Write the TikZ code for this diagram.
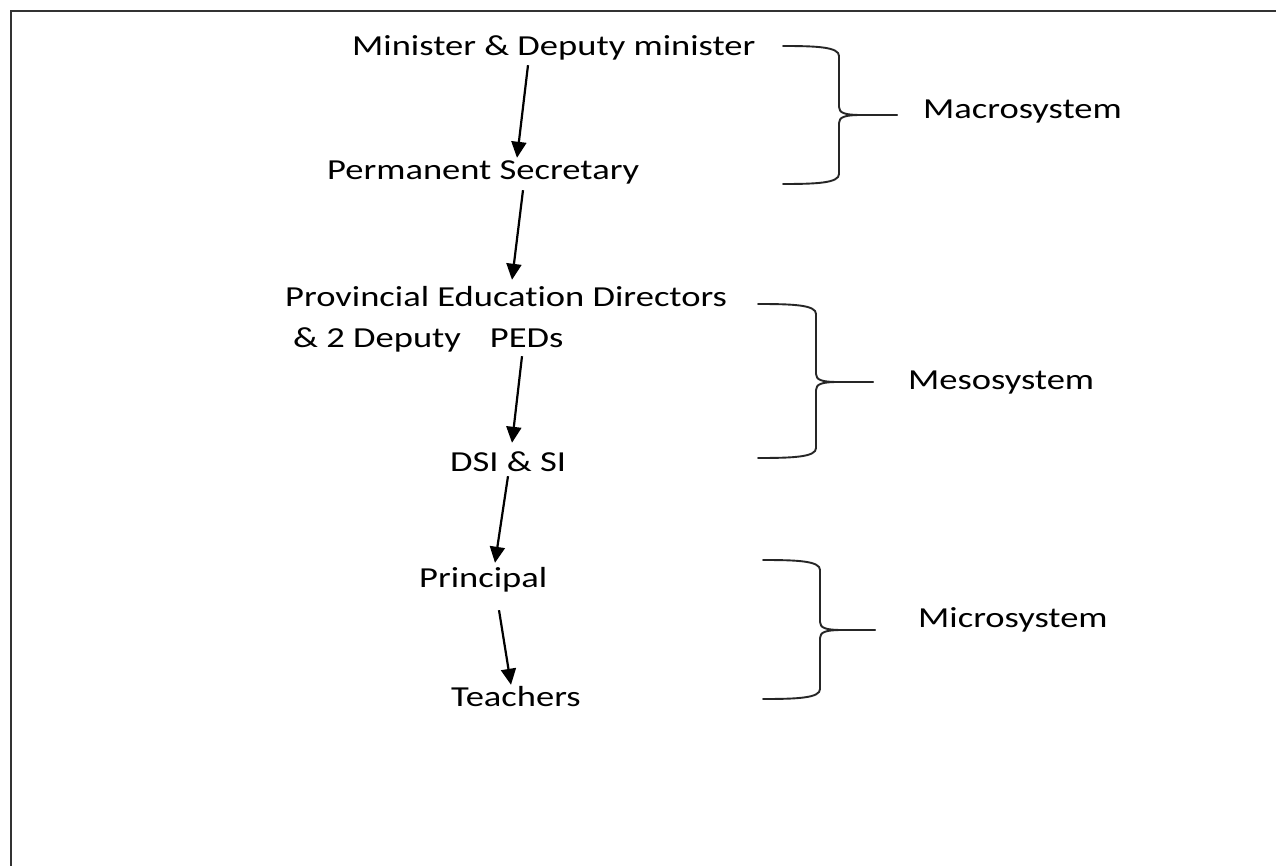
\documentclass[tikz,border=0pt]{standalone}
\usepackage{fontspec}
\setmainfont[Ligatures=NoCommon]{Carlito}
\usetikzlibrary{arrows.meta}

% horizontally widened label text
\newcommand\widetext[1]{\scalebox{1.26}[1]{#1}}

% curly brace: #1 arm start x, #2 spine x, #3 top y, #4 bottom y, #5 tip x, #6 middle y
\newcommand\sysbrace[6]{%
  \draw[brace]
    (#1,#3) .. controls (#2-22,#3) and (#2,#3+1) .. (#2,#3+10)
    -- (#2,#6-8) .. controls (#2,#6-2) and (#2+6,#6) .. (#2+22,#6)
    -- (#5,#6);
  \draw[brace]
    (#5,#6) -- (#2+22,#6) .. controls (#2+6,#6) and (#2,#6+2) .. (#2,#6+8)
    -- (#2,#4-10) .. controls (#2,#4-1) and (#2-22,#4) .. (#1,#4);
}

\tikzset{
  label/.style={inner sep=0pt, anchor=base west, text height=20pt, text depth=6pt,
    font=\fontsize{29}{34}\selectfont, text=black},
  arr/.style={line width=2.2pt, -{Triangle[length=16pt,width=15pt]}},
  brace/.style={line width=1.9pt, draw=black!85, line cap=round},
  frame/.style={line width=1.5pt, draw=black!80}
}

\begin{document}
\begin{tikzpicture}[x=1pt,y=-1pt]
  \useasboundingbox (0,0) rectangle (1276,866);
  \fill[white] (0,0) rectangle (1276,866);

  % outer frame (top and left edges)
  \draw[frame] (11,866) -- (11,11) -- (1276,11);

  % hierarchy
  \node[label] (min)   at (352,56)  {\widetext{Minister \& Deputy minister}};
  \node[label] (perm)  at (327,180) {\widetext{Permanent Secretary}};
  \node[label] (ped1)  at (285,307) {\widetext{Provincial Education Directors}};
  \node[label] (ped2)  at (293,347) {\widetext{\& 2 Deputy\hspace{23pt}PEDs}};
  \node[label] (dsi)   at (450,471) {\widetext{DSI \& SI}};
  \node[label] (prin)  at (419,587) {\widetext{Principal}};
  \node[label] (teach) at (451,706) {\widetext{Teachers}};

  % system levels
  \node[label] (macro) at (923,119) {\widetext{Macrosystem}};
  \node[label] (meso)  at (908,389) {\widetext{Mesosystem}};
  \node[label] (micro) at (918,627) {\widetext{Microsystem}};

  % chain of command
  \draw[arr] ([xshift=176pt,yshift=-3pt]min.south west)  -- ([xshift=190pt,yshift=2pt]perm.north west);
  \draw[arr] ([xshift=196pt,yshift=-4pt]perm.south west) -- ([xshift=227pt,yshift=7pt]ped1.north west);
  \draw[arr] ([xshift=229pt,yshift=-3pt]ped2.south west) -- ([xshift=62pt,yshift=8pt]dsi.north west);
  \draw[arr] ([xshift=58pt,yshift=1pt]dsi.south west)    -- ([xshift=76pt,yshift=4pt]prin.north west);
  \draw[arr] ([xshift=80pt,yshift=-17pt]prin.south west) -- ([xshift=60pt,yshift=1pt]teach.north west);

  % grouping braces
  \sysbrace{783}{839}{46}{184}{897}{115}
  \sysbrace{758}{816}{304}{458}{873}{382}
  \sysbrace{763}{820}{560}{699}{875}{630}
\end{tikzpicture}
\end{document}
